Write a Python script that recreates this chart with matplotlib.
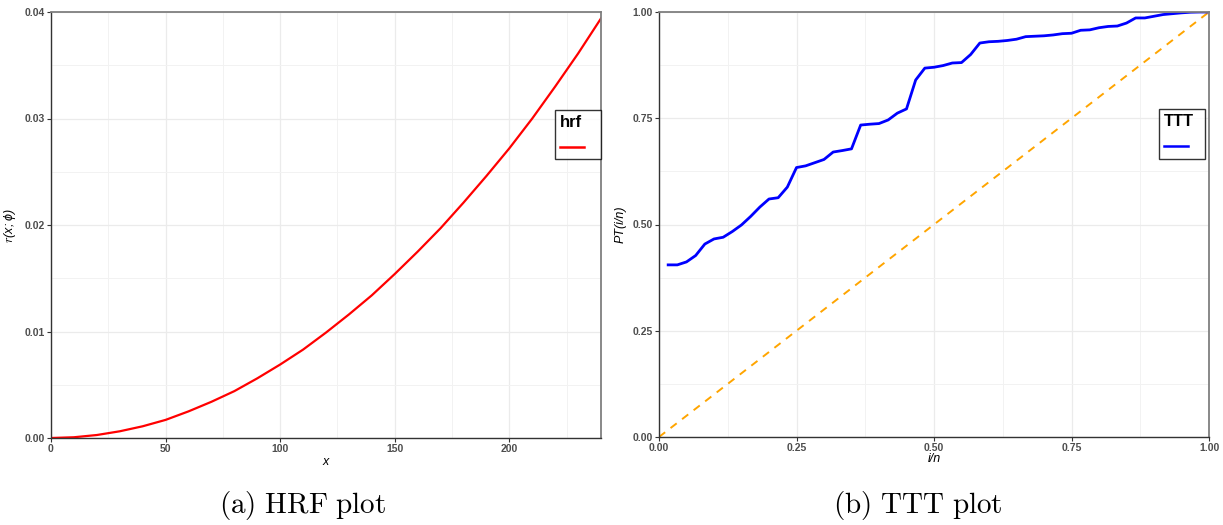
import numpy as np
import matplotlib
matplotlib.use("Agg")
import matplotlib.pyplot as plt
from matplotlib.lines import Line2D
from matplotlib.ticker import MultipleLocator

plt.rcParams['font.family'] = ['Liberation Sans', 'DejaVu Sans']
plt.rcParams['mathtext.fontset'] = 'cm'

# ---------------- data ----------------
# (a) hazard rate function
hrf_x = [0, 10, 20, 30, 40, 50, 60, 70, 80, 90, 100, 110, 120,
         130, 140, 150, 160, 170, 180, 190, 200, 210, 220, 230, 240]
hrf_y = [0.0, 0.00007, 0.00028, 0.00063, 0.0011, 0.0017, 0.0025, 0.0034,
         0.0044, 0.0056, 0.0069, 0.0083, 0.0099, 0.0116, 0.0134, 0.0154,
         0.0175, 0.0197, 0.0221, 0.0246, 0.0272, 0.0300, 0.0330, 0.0361,
         0.0394]

# (b) scaled TTT transform, n = 60 observations
n_obs = 60
ttt_i = list(range(1, n_obs + 1))
ttt_y = [0.405, 0.405, 0.412, 0.427, 0.454, 0.466, 0.470, 0.4835, 0.499,
         0.519, 0.541, 0.560, 0.563, 0.588, 0.634, 0.638, 0.6455, 0.653,
         0.6705, 0.674, 0.678, 0.734, 0.736, 0.7375, 0.746, 0.762, 0.772,
         0.840, 0.868, 0.870, 0.874, 0.880, 0.881, 0.900, 0.927, 0.930,
         0.931, 0.933, 0.936, 0.942, 0.943, 0.944, 0.946, 0.949, 0.950,
         0.957, 0.958, 0.963, 0.966, 0.967, 0.974, 0.986, 0.986, 0.990,
         0.994, 0.996, 0.998, 0.9995, 1.0, 1.0]
diag = [0.0, 1.0]

left_xticks = [0, 50, 100, 150, 200]
left_yticks = [0.00, 0.01, 0.02, 0.03, 0.04]
right_ticks = [0.00, 0.25, 0.50, 0.75, 1.00]

# ---------------- figure ----------------
W, H = 1223, 525
fig = plt.figure(figsize=(W / 100, H / 100), dpi=100)

def px_axes(x0, y0, x1, y1):
    return fig.add_axes([x0 / W, 1 - y1 / H, (x1 - x0) / W, (y1 - y0) / H])

ax1 = px_axes(51, 12, 601, 438)
ax2 = px_axes(659, 12, 1209, 437)

tick_col = '#4D4D4D'

def style(ax):
    ax.set_facecolor('white')
    ax.grid(True, which='major', color='#EBEBEB', lw=0.9, zorder=0)
    ax.grid(True, which='minor', color='#F2F2F2', lw=0.7, zorder=0)
    ax.set_axisbelow(True)
    for s in ['top', 'right']:
        ax.spines[s].set_color('#7F7F7F')
        ax.spines[s].set_linewidth(1.3)
    for s in ['left', 'bottom']:
        ax.spines[s].set_color('#333333')
        ax.spines[s].set_linewidth(1.0)
    ax.tick_params(which='major', length=3, width=0.8, color='#333333',
                   labelsize=7.5, labelcolor=tick_col, pad=1.5)
    ax.tick_params(which='minor', length=0)
    for lab in ax.get_xticklabels() + ax.get_yticklabels():
        lab.set_fontweight('bold')

# ---- (a) ----
ax1.plot(hrf_x, hrf_y, color='red', lw=1.6)
ax1.set_xlim(0, 240)
ax1.set_ylim(0, 0.04)
ax1.set_xticks(left_xticks)
ax1.set_yticks(left_yticks)
ax1.set_xticklabels([str(v) for v in left_xticks])
ax1.set_yticklabels([f"{v:.2f}" for v in left_yticks])
ax1.xaxis.set_minor_locator(MultipleLocator(25))
ax1.yaxis.set_minor_locator(MultipleLocator(0.005))
style(ax1)
ax1.set_xlabel('x', fontstyle='italic', fontsize=9, labelpad=1)
ax1.set_ylabel(r'$r$(x; ϕ)', fontsize=9, labelpad=5, fontstyle='italic')

# ---- (b) ----
ttt_x = [i / n_obs for i in ttt_i]
ax2.plot(diag, diag, color='#FFA500', lw=1.4, ls=(0, (4, 3.5)))
ax2.plot(ttt_x, ttt_y, color='blue', lw=2.0)
ax2.set_xlim(0, 1)
ax2.set_ylim(0, 1)
ax2.set_xticks(right_ticks)
ax2.set_yticks(right_ticks)
ax2.set_xticklabels([f"{v:.2f}" for v in right_ticks])
ax2.set_yticklabels([f"{v:.2f}" for v in right_ticks])
ax2.xaxis.set_minor_locator(MultipleLocator(0.125))
ax2.yaxis.set_minor_locator(MultipleLocator(0.125))
style(ax2)
ax2.set_xlabel('i/n', fontstyle='italic', fontsize=9, labelpad=0)
ax2.set_ylabel('PT(i/n)', fontstyle='italic', fontsize=9, labelpad=4)

def legend(ax, color, title, top, right):
    h = Line2D([], [], color=color, lw=1.8)
    lg = ax.legend([h], [''], title=title, loc='upper right',
                   bbox_to_anchor=(right, top), frameon=True, fancybox=False,
                   borderaxespad=0, handlelength=1.9, handletextpad=1.0,
                   borderpad=0.4, labelspacing=1.0, fontsize=9,
                   title_fontproperties={'weight': 'bold', 'size': 12})
    lg._legend_box.align = 'left'
    fr = lg.get_frame()
    fr.set_edgecolor('black')
    fr.set_linewidth(1.0)
    return lg

legend(ax1, 'red', 'hrf', 0.77, 1.0)
legend(ax2, 'blue', 'TTT', 0.771, 0.9936)

# captions
fig.text(303 / W, 1 - 505 / H, r'$\mathrm{(a)\ HRF\ plot}$', ha='center',
         va='center', fontsize=21)
fig.text(918 / W, 1 - 505 / H, r'$\mathrm{(b)\ TTT\ plot}$', ha='center',
         va='center', fontsize=21)

fig.savefig('out.png', dpi=100)
